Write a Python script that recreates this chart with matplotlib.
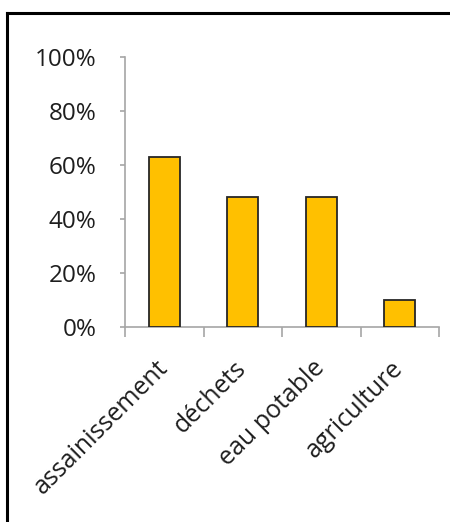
import matplotlib.pyplot as plt
from matplotlib.lines import Line2D
from matplotlib.ticker import FixedLocator, PercentFormatter

# data
categories = ['assainissement', 'déchets', 'eau potable', 'agriculture']
values = [63, 48, 48, 10]

W, H = 450, 522
fig = plt.figure(figsize=(W / 100, H / 100), dpi=100)
plt.rcParams['font.family'] = ['Open Sans', 'DejaVu Sans']

# axes placed in pixel coordinates
x0, x1 = 125, 439
y_top, y_bot = 57, 327
ax = fig.add_axes([x0 / W, 1 - y_bot / H, (x1 - x0) / W, (y_bot - y_top) / H])

grey = '#A6A6A6'
txt = '#1E1E1E'
pos = list(range(len(categories)))
ax.bar(pos, values, width=0.4, color='#FFC000', edgecolor='#262626', linewidth=1.3, zorder=3)

ax.set_xlim(-0.5, len(categories) - 0.5)
ax.set_ylim(0, 100)
ax.set_yticks([0, 20, 40, 60, 80, 100])
ax.yaxis.set_major_formatter(PercentFormatter(decimals=0))

# category labels at centres, tick marks between categories
ax.set_xticks(pos)
ax.set_xticklabels(categories, rotation=45, ha='right', va='center', rotation_mode='anchor', fontsize=18, color=txt)
ax.tick_params(axis='x', which='major', length=0, pad=27)
ax.xaxis.set_minor_locator(FixedLocator([p - 0.5 for p in pos] + [len(pos) - 0.5]))
ax.tick_params(axis='x', which='minor', length=7.2, color=grey, width=1.2)
ax.tick_params(axis='y', length=3.6, color=grey, width=1.2, labelsize=17.5, labelcolor=txt, pad=17)

for s in ['top', 'right']:
    ax.spines[s].set_visible(False)
for s in ['left', 'bottom']:
    ax.spines[s].set_color(grey)
    ax.spines[s].set_linewidth(1.2)

# frame lines around the figure (top and left only)
fig.add_artist(Line2D([7 / W, 1], [1 - 13 / H, 1 - 13 / H], color='black', lw=2.2, transform=fig.transFigure))
fig.add_artist(Line2D([7 / W, 7 / W], [0, 1 - 13 / H], color='black', lw=2.2, transform=fig.transFigure))

fig.savefig('out.png', dpi=100)
